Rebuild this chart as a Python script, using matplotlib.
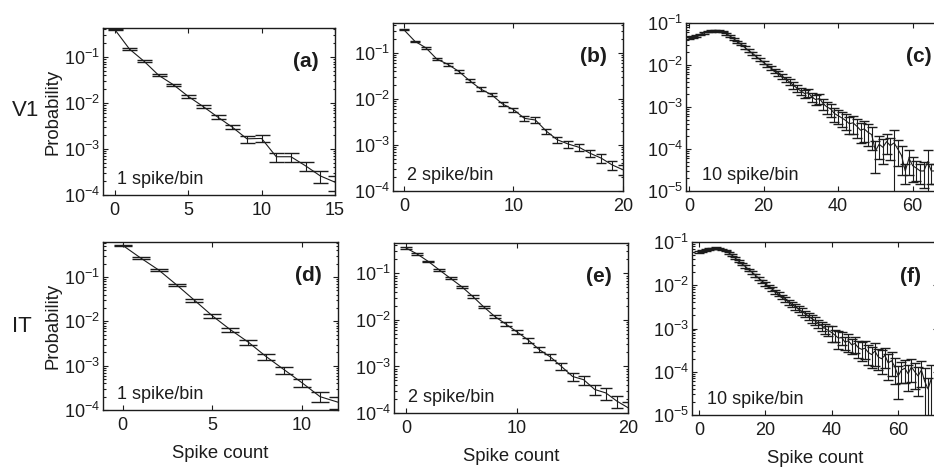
import numpy as np
import matplotlib
matplotlib.use("Agg")
import matplotlib.pyplot as plt
from matplotlib.ticker import LogLocator, NullFormatter

plt.rcParams['font.family'] = ['Liberation Sans', 'DejaVu Sans']

# ---------------- data ----------------
a_x = list(range(0, 16))
a_p = [0.40, 0.15, 0.081, 0.040, 0.025, 0.014, 0.0085, 0.005, 0.003, 0.00167,
       0.0017, 0.00068, 0.00068, 0.00043, 0.00026, 0.00019]
a_rel = [0.03, 0.04, 0.05, 0.05, 0.06, 0.07, 0.08, 0.09, 0.10, 0.17,
         0.17, 0.22, 0.22, 0.22, 0.30, 0.35]

b_x = list(range(0, 21))
b_p = [0.32, 0.18, 0.13, 0.074, 0.057, 0.040, 0.025, 0.0165, 0.0124, 0.0078,
       0.0059, 0.0038, 0.0035, 0.0020, 0.0013, 0.00105, 0.00089, 0.00066,
       0.00052, 0.00037, 0.00029]
b_rel = [0.03, 0.04, 0.05, 0.05, 0.06, 0.06, 0.07, 0.08, 0.08, 0.09, 0.10,
         0.12, 0.14, 0.14, 0.15, 0.16, 0.18, 0.18, 0.20, 0.22, 0.25]

c_x = list(range(0, 69))
c_p = [0.045, 0.047, 0.050, 0.054, 0.058, 0.062, 0.065, 0.066, 0.065, 0.062,
       0.056, 0.049, 0.042, 0.036, 0.031, 0.026, 0.022, 0.019, 0.016, 0.0135,
       0.0115, 0.0098, 0.0084, 0.0072, 0.0062, 0.0053, 0.0046, 0.0039, 0.0033, 0.0028,
       0.0024, 0.0021, 0.0022, 0.0017, 0.0015, 0.0016, 0.0012, 0.0010, 0.0009, 0.0007,
       0.00062, 0.00055, 0.00048, 0.00040, 0.00042, 0.00035, 0.00028, 0.00030, 0.00025, 0.00022,
       0.00009, 0.00013, 0.00011, 0.00015, 0.00012, 0.00014, 0.00010, 0.00007, 0.00003, 0.00006,
       0.00004, 0.000035, 0.00003, 0.00003, 0.00005, 0.00003, 0.00003, 0.00004, 0.00003]
c_rel = [0.05, 0.05, 0.05, 0.04, 0.04, 0.04, 0.04, 0.04, 0.04, 0.04,
         0.05, 0.05, 0.05, 0.06, 0.06, 0.07, 0.07, 0.08, 0.08, 0.09,
         0.10, 0.10, 0.11, 0.12, 0.13, 0.14, 0.15, 0.16, 0.17, 0.18,
         0.20, 0.22, 0.22, 0.24, 0.26, 0.28, 0.30, 0.32, 0.34, 0.36,
         0.38, 0.40, 0.42, 0.44, 0.46, 0.48, 0.50, 0.52, 0.54, 0.56,
         0.70, 0.55, 0.60, 0.50, 0.55, 1.00, 0.60, 0.65, 0.50, 0.60,
         0.60, 0.50, 0.50, 0.60, 0.85, 0.50, 0.50, 0.60, 0.50]

d_x = list(range(0, 13))
d_p = [0.52, 0.27, 0.145, 0.067, 0.030, 0.0133, 0.0065, 0.0034, 0.0016,
       0.00081, 0.00041, 0.00020, 0.00015]
d_rel = [0.03, 0.04, 0.05, 0.06, 0.07, 0.08, 0.10, 0.12, 0.14, 0.18, 0.20, 0.25, 0.30]

e_x = list(range(0, 21))
e_p = [0.35, 0.26, 0.18, 0.118, 0.078, 0.052, 0.032, 0.019, 0.0118, 0.0081,
       0.0055, 0.0037, 0.0023, 0.0016, 0.0010, 0.00061, 0.00052, 0.00032,
       0.00027, 0.00018, 0.00013]
e_rel = [0.03, 0.03, 0.04, 0.04, 0.05, 0.05, 0.06, 0.07, 0.08, 0.09, 0.10,
         0.12, 0.13, 0.15, 0.18, 0.20, 0.22, 0.25, 0.28, 0.30, 0.35]

f_x = list(range(0, 71))
f_p = [0.058, 0.062, 0.066, 0.069, 0.071, 0.072, 0.071, 0.068, 0.063, 0.056,
       0.049, 0.042, 0.036, 0.031, 0.027, 0.023, 0.020, 0.017, 0.0145, 0.0125,
       0.0108, 0.0094, 0.0082, 0.0071, 0.0062, 0.0054, 0.0047, 0.0041, 0.0036, 0.0032,
       0.0028, 0.0025, 0.0022, 0.0019, 0.0017, 0.0015, 0.0013, 0.00115, 0.0010, 0.0009,
       0.0008, 0.0007, 0.0006, 0.00062, 0.00048, 0.00052, 0.00042, 0.00045, 0.00036, 0.00033,
       0.00035, 0.00028, 0.00025, 0.00030, 0.00022, 0.00020, 0.00024, 0.00016, 0.00018, 0.00013,
       0.00008, 0.00011, 0.00012, 0.00009, 0.00013, 0.00010, 0.00008, 0.00011, 0.00006, 0.00004,
       0.00007]
f_rel = [0.04, 0.04, 0.04, 0.04, 0.04, 0.04, 0.04, 0.04, 0.04, 0.04,
         0.05, 0.05, 0.05, 0.06, 0.06, 0.06, 0.07, 0.07, 0.08, 0.08,
         0.09, 0.09, 0.10, 0.10, 0.11, 0.12, 0.12, 0.13, 0.14, 0.15,
         0.16, 0.17, 0.18, 0.19, 0.20, 0.21, 0.22, 0.23, 0.24, 0.26,
         0.40, 0.30, 0.45, 0.32, 0.35, 0.45, 0.38, 0.40, 0.42, 0.45,
         0.45, 0.48, 0.50, 0.55, 0.50, 0.55, 0.50, 0.60, 0.55, 0.60,
         0.70, 0.50, 0.55, 0.60, 0.55, 0.60, 0.65, 0.60, 1.00, 0.80, 1.00]

panel_letters = ['(a)', '(b)', '(c)', '(d)', '(e)', '(f)']
rate_labels = ['1 spike/bin', '2 spike/bin', '10 spike/bin',
               '1 spike/bin', '2 spike/bin', '10 spike/bin']
row_labels = ['V1', 'IT']
xticks_list = [[0, 5, 10, 15], [0, 10, 20], [0, 20, 40, 60],
               [0, 5, 10], [0, 10, 20], [0, 20, 40, 60]]

# ---------------- layout ----------------
W, H = 934, 468
fig = plt.figure(figsize=(W / 100, H / 100), dpi=100)

def rect(l, r, t, b):
    return [l / W, 1 - b / H, (r - l) / W, (b - t) / H]

specs = [
    (a_x, a_p, a_rel, rect(103, 335, 28, 195), (-0.8, 15), (1e-4, 0.43), 5.4),
    (b_x, b_p, b_rel, rect(393, 623, 23, 191), (-1.0, 20), (1e-4, 0.45), 3.8),
    (c_x, c_p, c_rel, rect(686, 950, 23, 191), (-0.8, 70), (1e-5, 1e-1), 3.6),
    (d_x, d_p, d_rel, rect(103, 338, 242, 410), (-1.1, 12), (1e-4, 0.62), 6.3),
    (e_x, e_p, e_rel, rect(394, 628, 243, 413), (-1.1, 20), (1e-4, 0.45), 4.0),
    (f_x, f_p, f_rel, rect(692, 938, 242, 415), (-2.1, 72), (1e-5, 1e-1), 3.6),
]

ink = '#1c1c1c'
axes = []
for i, (x, p, rel, pos, xl, yl, cap) in enumerate(specs):
    ax = fig.add_axes(pos)
    x = np.asarray(x, float)
    p = np.asarray(p, float)
    err = p * np.asarray(rel, float)
    ax.errorbar(x, p, yerr=err, fmt='-', color=ink, lw=0.8, elinewidth=0.8,
                capsize=cap, capthick=1.0)
    ax.set_yscale('log')
    ax.set_xlim(*xl)
    ax.set_ylim(*yl)
    ax.set_xticks(xticks_list[i])
    ax.yaxis.set_major_locator(LogLocator(base=10, numticks=10))
    ax.yaxis.set_minor_locator(LogLocator(base=10, subs=np.arange(2, 10), numticks=20))
    ax.yaxis.set_minor_formatter(NullFormatter())
    ax.tick_params(which='both', direction='in', top=True, right=True,
                   colors=ink, labelsize=13, width=0.8)
    ax.tick_params(which='major', length=3.5)
    ax.tick_params(which='minor', length=1.8)
    ax.tick_params(axis='x', pad=5)
    ax.tick_params(axis='y', pad=2)
    for s in ax.spines.values():
        s.set_color(ink)
        s.set_linewidth(1.0)
    ax.text(0.93, 0.80, panel_letters[i], transform=ax.transAxes, ha='right',
            va='center', fontsize=15, fontweight='bold', color=ink)
    ax.text(0.06, 0.09, rate_labels[i], transform=ax.transAxes, ha='left',
            va='center', fontsize=13, color=ink)
    if i in (0, 3):
        ax.set_ylabel('Probability', fontsize=13.3, color=ink, labelpad=2)
    if i >= 3:
        ax.set_xlabel('Spike count', fontsize=13.3, color=ink, labelpad=8)
    axes.append(ax)

fig.text(26 / W, 1 - 110 / H, row_labels[0], ha='center', va='center',
         fontsize=16, color=ink)
fig.text(22 / W, 1 - 326 / H, row_labels[1], ha='center', va='center',
         fontsize=16, color=ink)

fig.savefig('out.png', dpi=100)
